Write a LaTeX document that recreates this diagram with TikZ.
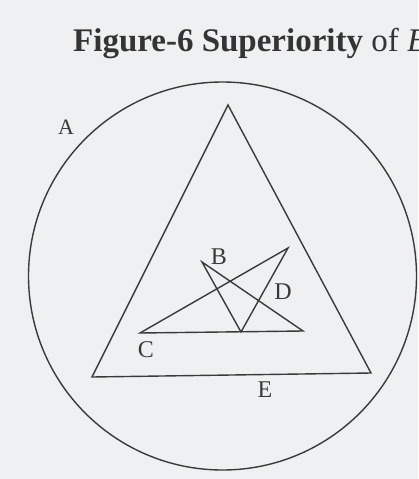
\documentclass[tikz,border=0pt]{standalone}
\usepackage{fontspec}
\setmainfont{Liberation Serif}
\definecolor{paper}{HTML}{EEF0F1}
\definecolor{ink}{HTML}{3A3A3A}
\begin{document}
\begin{tikzpicture}[x=1pt,y=-1pt,
  shape line/.style={draw=ink,line width=1.4pt,line join=miter},
  lbl/.style={text=ink,font=\fontsize{24}{24}\selectfont,inner sep=0pt}]
\fill[paper] (0,0) rectangle (418,479);
\useasboundingbox (0,0) rectangle (418,479);
\clip (0,0) rectangle (418,479);
% title
\node[anchor=base west,inner sep=0pt,text=ink!90!black,font=\fontsize{33}{33}\selectfont] (title) at (73,51)
  {\textbf{Figure-6 Superiority} of \textit{B}};
% circle
\coordinate (O) at (222.5,276);
\draw[shape line] (O) circle[radius=194];
% big triangle
\coordinate (T1) at (228,105);
\coordinate (T2) at (92,377);
\coordinate (T3) at (371,373);
\draw[shape line] (T1) -- (T2) -- (T3) -- cycle;
% inner figure
\coordinate (Bp) at (202,262);
\coordinate (Rp) at (303,331);
\coordinate (Mp) at (241,332);
\coordinate (Dp) at (288,248);
\coordinate (Cp) at (140,333);
\draw[shape line] (Bp) -- (Rp) -- (Cp) -- (Dp) -- (Mp) -- cycle;
% labels
\node[lbl,font=\fontsize{22}{22}\selectfont] (A) at (66,127) {A};
\node[lbl] (B) at (219,257) {B};
\node[lbl] (C) at (146,350) {C};
\node[lbl] (D) at (283,292) {D};
\node[lbl] (E) at (265,390) {E};
\end{tikzpicture}
\end{document}
